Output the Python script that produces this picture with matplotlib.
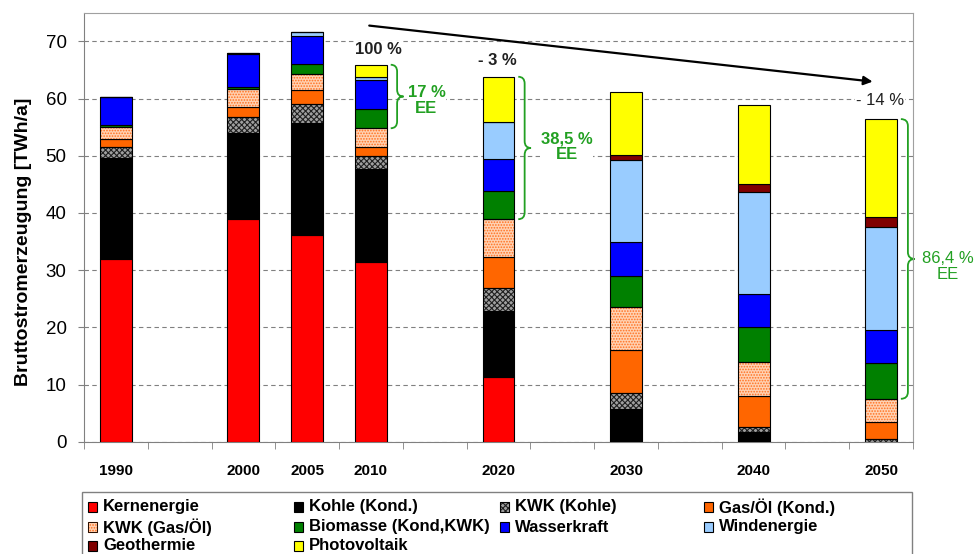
import numpy as np
import matplotlib
matplotlib.use("Agg")
import matplotlib.pyplot as plt
from matplotlib.path import Path
from matplotlib.patches import PathPatch, Rectangle

plt.rcParams["font.family"] = ["Liberation Sans", "DejaVu Sans"]
plt.rcParams["hatch.linewidth"] = 0.8

# category slots on the x axis (empty strings are spacer slots)
years = ["1990", "", "2000", "2005", "2010", "", "2020", "", "2030", "", "2040", "", "2050"]
bar_slots = [0, 2, 3, 4, 6, 8, 10, 12]

# gross generation in TWh/a per source, one value per bar
kern       = [32.0, 39.0, 36.1, 31.4, 11.3, 0.0, 0.0, 0.0]
kohle      = [17.6, 14.9, 19.7, 16.2, 11.6, 5.8, 1.7, 0.0]
kwk_kohle  = [1.9, 2.9, 3.2, 2.3, 4.0, 2.7, 0.9, 0.4]
gas_oel    = [1.4, 1.8, 2.4, 1.7, 5.4, 7.5, 5.4, 3.0]
kwk_gas    = [2.1, 3.0, 2.9, 3.2, 6.6, 7.5, 6.0, 4.1]
biomasse   = [0.3, 0.4, 1.7, 3.3, 5.0, 5.5, 6.0, 6.2]
wasser     = [4.9, 5.8, 5.0, 5.1, 5.6, 5.9, 5.8, 5.9]
wind       = [0.0, 0.2, 0.6, 0.5, 6.4, 14.3, 17.9, 17.9]
geothermie = [0.0, 0.0, 0.0, 0.0, 0.0, 0.9, 1.3, 1.8]
pv         = [0.0, 0.0, 0.0, 2.2, 7.9, 11.0, 13.8, 17.1]

labels = ["Kernenergie", "Kohle (Kond.)", "KWK (Kohle)", "Gas/Öl (Kond.)",
          "KWK (Gas/Öl)", "Biomasse (Kond,KWK)", "Wasserkraft", "Windenergie",
          "Geothermie", "Photovoltaik"]
series = [kern, kohle, kwk_kohle, gas_oel, kwk_gas, biomasse, wasser, wind,
          geothermie, pv]

# (face colour, hatch, hatch colour)
styles = [
    ("#ff0000", None, None),
    ("#000000", None, None),
    ("#a0a0a0", "xxxxxx", "#202020"),
    ("#ff6600", None, None),
    ("#ffd2b3", "......", "#ff7020"),
    ("#008000", None, None),
    ("#0000ff", None, None),
    ("#99ccff", None, None),
    ("#800000", None, None),
    ("#ffff00", None, None),
]

# change of total generation: (slot, text, x, y, weight)
change_labels = [(4, "100 %", 4.12, 68.65, "bold"),
                 (6, "- 3 %", 5.99, 66.6, "bold"),
                 (12, "- 14 %", 11.98, 59.6, "normal")]
# renewable share: (slot, text, x, y, weight)
ee_labels = [(4, "17 %\nEE", 4.87, 59.6, "bold"),
             (6, "38,5 %\nEE", 7.07, 51.6, "bold"),
             (12, "86,4 %\nEE", 13.04, 30.6, "normal")]

GREEN = "#22a022"
W, H = 976, 554


def brace(ax, x0, width, y0, y1, color):
    """Right-pointing curly brace from y0 to y1 starting at x0."""
    xm = x0 + width * 0.5
    xt = x0 + width
    ym = 0.5 * (y0 + y1)
    r = min(1.2, (y1 - y0) * 0.12)
    verts = [(x0, y1), (xm, y1), (xm, y1 - r),
             (xm, ym + r), (xm, ym), (xt, ym),
             (xm, ym), (xm, ym - r),
             (xm, y0 + r), (xm, y0), (x0, y0)]
    codes = [Path.MOVETO, Path.CURVE3, Path.CURVE3,
             Path.LINETO, Path.CURVE3, Path.CURVE3,
             Path.CURVE3, Path.CURVE3,
             Path.LINETO, Path.CURVE3, Path.CURVE3]
    ax.add_patch(PathPatch(Path(verts, codes), fill=False, edgecolor=color,
                           lw=1.3, clip_on=False))


fig = plt.figure(figsize=(W / 100, H / 100), dpi=100)
ax = fig.add_axes([84 / W, 1 - 441.7 / H, 829 / W, 429 / H])

x = np.array(bar_slots, dtype=float)
width = 0.5
bottom = np.zeros(len(bar_slots))
for vals, (fc, hatch, hc) in zip(series, styles):
    vals = np.array(vals)
    if hatch:
        ax.bar(x, vals, width, bottom=bottom, color=fc, hatch=hatch,
               edgecolor=hc, linewidth=0, zorder=3)
        ax.bar(x, vals, width, bottom=bottom, fill=False,
               edgecolor="black", linewidth=0.8, zorder=4)
    else:
        ax.bar(x, vals, width, bottom=bottom, color=fc,
               edgecolor="black", linewidth=0.8, zorder=3)
    bottom += vals

totals = bottom.copy()

ax.set_xlim(-0.5, len(years) - 0.5)
ax.set_ylim(0, 75)
ax.set_yticks(range(0, 71, 10))
ax.set_xticks(range(len(years)))
ax.set_xticklabels(years, fontweight="bold", fontsize=11)
ax.set_xticks(np.arange(-0.5, len(years)), minor=True)
ax.tick_params(axis="x", which="major", length=0, pad=16)
ax.tick_params(axis="x", which="minor", length=5, color="#808080", direction="out")
ax.tick_params(axis="y", length=4.5, color="#808080", labelsize=13.5, pad=8)
for sp in ax.spines.values():
    sp.set_color("#a0a0a0")
ax.spines["left"].set_color("#808080")
ax.spines["bottom"].set_color("#808080")
ax.yaxis.grid(True, linestyle=(0, (4, 3)), color="#808080", lw=0.8, zorder=0)
ax.set_axisbelow(True)
ax.set_ylabel("Bruttostromerzeugung [TWh/a]", fontweight="bold", fontsize=14)
ax.yaxis.set_label_coords(-0.0627, 0.467)

# trend arrow over the bars
ax.annotate("", xy=(11.91, 62.9), xytext=(3.93, 72.8),
            arrowprops=dict(arrowstyle="-|>", color="black", lw=1.6,
                            mutation_scale=13), zorder=5)

for slot, text, tx, ty, weight in change_labels:
    ax.text(tx, ty, text, ha="center", va="center",
            fontsize=12, fontweight=weight, color="#202020", zorder=6,
            bbox=dict(facecolor="white", edgecolor="none", pad=0.5))

# renewable share braces (Biomasse and everything above it)
ee_start = labels.index("Biomasse (Kond,KWK)")
for slot, text, tx, ty, weight in ee_labels:
    i = bar_slots.index(slot)
    lo = sum(series[k][i] for k in range(ee_start))
    hi = totals[i]
    bx = slot + width / 2 + 0.06
    bw = 0.2 if slot != 12 else 0.22
    brace(ax, bx, bw, lo, hi, GREEN)
    ax.text(tx, ty, text, ha="center", va="center", fontsize=12,
            fontweight=weight, color=GREEN, linespacing=1.05, clip_on=False,
            zorder=6, bbox=dict(facecolor="white", edgecolor="none", pad=0.5))

# legend: four equal columns, filled row by row, frame runs off the bottom
fig.add_artist(Rectangle((82 / W, -0.05), 830 / W, 0.05 + 1 - 492 / H,
                         transform=fig.transFigure, facecolor="white",
                         edgecolor="#808080", lw=1.0))
col_x = [103, 309, 515, 719]
row_y = [507, 527, 545.5]
for k, lab in enumerate(labels):
    r, c = divmod(k, 4)
    fc, hatch, hc = styles[k]
    tx, ty = col_x[c], row_y[r]
    fig.add_artist(Rectangle(((tx - 15) / W, 1 - (ty + 5) / H), 9 / W, 10 / H,
                             transform=fig.transFigure, facecolor=fc,
                             hatch=hatch, edgecolor=hc if hatch else "black",
                             lw=0.8))
    if hatch:
        fig.add_artist(Rectangle(((tx - 15) / W, 1 - (ty + 5) / H), 9 / W, 10 / H,
                                 transform=fig.transFigure, fill=False,
                                 edgecolor="black", lw=0.6))
    fig.text(tx / W, 1 - ty / H, lab, ha="left", va="center", fontsize=12,
             fontweight="bold", color="black")

fig.savefig("out.png", dpi=100)
